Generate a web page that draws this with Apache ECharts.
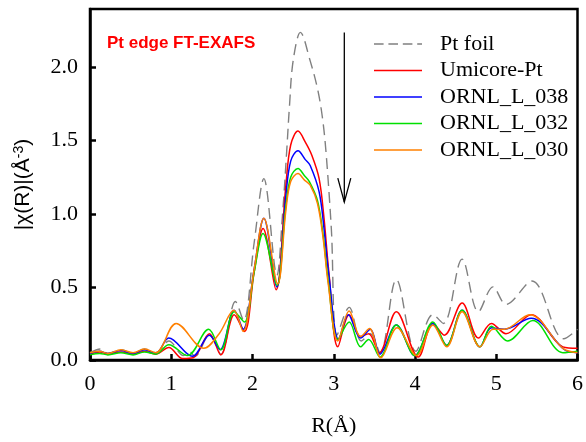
<!DOCTYPE html>
<html>
<head>
<meta charset="utf-8">
<script src="https://cdn.jsdelivr.net/npm/echarts@6/dist/echarts.min.js"></script>
<style>
  html, body { margin: 0; padding: 0; background: #fff; }
  #exafs_chart { width: 586px; height: 442px; }
</style>
</head>
<body>
<div id="exafs_chart"></div>
<script>
// [R (Å), |chi(R)|], peaks and troughs mostly
const ptFoil = [
  [0, 0.05], [0.13, 0.075], [0.22, 0.045], [0.38, 0.07], [0.53, 0.045], [0.67, 0.075], [0.81, 0.05],
  [0.97, 0.13], [1.15, 0.03], [1.22, 0.06], [1.29, 0.025], [1.47, 0.17], [1.61, 0.04], [1.79, 0.40],
  [1.89, 0.27], [2.02, 0.8], [2.14, 1.24], [2.30, 0.58], [2.37, 1.0], [2.42, 1.42], [2.455, 1.735],
  [2.50, 2.045], [2.59, 2.24], [2.71, 2.045], [2.80, 1.855], [2.86, 1.66], [2.905, 1.42], [2.97, 0.9],
  [3.04, 0.17], [3.19, 0.36], [3.34, 0.13], [3.45, 0.18], [3.57, 0.05], [3.77, 0.55], [4.01, 0.06],
  [4.22, 0.31], [4.35, 0.25], [4.58, 0.69], [4.78, 0.33], [4.96, 0.50], [5.12, 0.38], [5.44, 0.54],
  [5.83, 0.145], [6.0, 0.21]
];
const umicorePt = [
  [0, 0.04], [0.12, 0.055], [0.22, 0.04], [0.38, 0.055], [0.53, 0.04], [0.67, 0.06], [0.81, 0.04],
  [0.97, 0.085], [1.14, 0.01], [1.27, 0.015], [1.47, 0.18], [1.61, 0.035], [1.775, 0.31], [1.90, 0.195],
  [2.02, 0.6], [2.13, 0.90], [2.29, 0.48], [2.41, 1.19], [2.47, 1.47], [2.56, 1.565], [2.65, 1.49],
  [2.73, 1.40], [2.82, 1.24], [2.88, 0.97], [2.94, 0.6], [3.05, 0.09], [3.19, 0.31], [3.33, 0.16],
  [3.43, 0.18], [3.56, 0.05], [3.77, 0.33], [4.04, 0.02], [4.22, 0.25], [4.36, 0.17], [4.58, 0.39],
  [4.78, 0.15], [4.94, 0.25], [5.12, 0.18], [5.43, 0.31], [5.82, 0.09], [6.0, 0.08]
];
const ornl038 = [
  [0, 0.045], [0.12, 0.06], [0.22, 0.045], [0.38, 0.065], [0.53, 0.045], [0.67, 0.07], [0.81, 0.045],
  [0.97, 0.15], [1.26, 0.025], [1.47, 0.17], [1.60, 0.07], [1.775, 0.34], [1.885, 0.21], [2.02, 0.62],
  [2.14, 0.97], [2.30, 0.50], [2.41, 1.12], [2.47, 1.36], [2.56, 1.43], [2.65, 1.37], [2.71, 1.33],
  [2.82, 1.15], [2.88, 0.90], [2.94, 0.58], [3.06, 0.14], [3.18, 0.31], [3.33, 0.15], [3.45, 0.21],
  [3.57, 0.04], [3.77, 0.24], [4.0, 0.03], [4.22, 0.25], [4.39, 0.10], [4.58, 0.34], [4.80, 0.09],
  [4.94, 0.22], [5.1, 0.21], [5.43, 0.285], [5.84, 0.07], [6.0, 0.05]
];
const ornl032 = [
  [0, 0.035], [0.12, 0.045], [0.22, 0.035], [0.38, 0.05], [0.53, 0.035], [0.67, 0.055], [0.81, 0.04],
  [0.97, 0.105], [1.2, 0.03], [1.46, 0.21], [1.61, 0.07], [1.775, 0.33], [1.90, 0.26], [2.02, 0.6],
  [2.13, 0.865], [2.30, 0.51], [2.41, 1.05], [2.47, 1.25], [2.56, 1.31], [2.64, 1.26], [2.70, 1.22],
  [2.80, 1.09], [2.87, 0.85], [2.93, 0.55], [3.05, 0.14], [3.19, 0.26], [3.33, 0.09], [3.43, 0.14],
  [3.57, 0.02], [3.77, 0.24], [4.0, 0.03], [4.22, 0.26], [4.39, 0.10], [4.58, 0.34], [4.80, 0.09],
  [4.94, 0.23], [5.14, 0.13], [5.45, 0.27], [5.82, 0.05], [6.0, 0.06]
];
const ornl030 = [
  [0, 0.05], [0.12, 0.06], [0.22, 0.045], [0.38, 0.07], [0.53, 0.05], [0.67, 0.075], [0.81, 0.05],
  [1.06, 0.25], [1.40, 0.08], [1.59, 0.18], [1.77, 0.34], [1.885, 0.195], [2.02, 0.62], [2.14, 0.97],
  [2.31, 0.52], [2.41, 1.02], [2.47, 1.22], [2.56, 1.275], [2.64, 1.23], [2.71, 1.195], [2.80, 1.07],
  [2.87, 0.83], [2.93, 0.53], [3.05, 0.13], [3.19, 0.335], [3.33, 0.16], [3.44, 0.215], [3.58, 0.015],
  [3.78, 0.22], [4.02, 0.03], [4.22, 0.24], [4.39, 0.09], [4.58, 0.33], [4.80, 0.09], [4.96, 0.21],
  [5.1, 0.21], [5.41, 0.31], [5.82, 0.08], [6.0, 0.05]
];

const seriesNames = ['Pt foil', 'Umicore-Pt', 'ORNL_L_038', 'ORNL_L_032', 'ORNL_L_030'];
const seriesColors = ['#808080', '#ff0000', '#0000ff', '#00e000', '#ff8000'];
const seriesData = [ptFoil, umicorePt, ornl038, ornl032, ornl030];
const xTicks = [0, 1, 2, 3, 4, 5, 6];
const yTicks = [0, 0.5, 1.0, 1.5, 2.0];

// arrow: from top to bottom, in data units
const arrowFrom = [3.13, 2.24];
const arrowTo = [3.13, 1.08];

const serif = '"Liberation Serif", "Times New Roman", serif';
const sans = '"Liberation Sans", Arial, sans-serif';

// legend icons: plain line, dashed for the foil
const solidIcon = 'path://M0,0h60v2h-60z';
const dashedIcon = 'path://M0,0h12v2h-12z M18,0h12v2h-12z M36,0h12v2h-12z M54,0h6v2h-6z';

var exafs_chart = echarts.init(document.getElementById('exafs_chart'));

var option = {
  animation: false,
  grid: {
    left: 90, right: 6, top: 9, bottom: 80,
    show: true,
    borderColor: '#000',
    borderWidth: 2.5
  },
  title: {
    text: 'Pt edge FT-EXAFS',
    left: 102, top: 30,
    textStyle: { color: '#ff0000', fontFamily: sans, fontWeight: 'bold', fontSize: 17 }
  },
  legend: {
    orient: 'vertical',
    left: 369, top: 28,
    itemWidth: 58, itemHeight: 1.6,
    itemGap: 4.5,
    data: seriesNames.map((n, i) => ({ name: n, icon: i === 0 ? dashedIcon : solidIcon })),
    textStyle: { fontFamily: serif, fontSize: 22, color: '#000', padding: [0, 0, 0, 8], lineHeight: 20 }
  },
  xAxis: {
    type: 'value',
    min: 0, max: 6, interval: 1,
    name: 'R(Å)',
    nameLocation: 'middle',
    nameGap: 55,
    nameTextStyle: { fontFamily: serif, fontSize: 22, color: '#000' },
    axisLine: { lineStyle: { color: '#000', width: 2.5 } },
    axisTick: { inside: true, length: 6, lineStyle: { width: 2.5 } },
    axisLabel: {
      fontFamily: serif, fontSize: 22, color: '#000', margin: 13,
      formatter: v => xTicks.indexOf(v) >= 0 ? String(v) : ''
    },
    splitLine: { show: false }
  },
  yAxis: {
    type: 'value',
    min: 0, max: 2.4, interval: 0.5,
    name: '{a||χ(R)|(Å}{s|-3}{a|)}',
    nameLocation: 'middle',
    nameGap: 56,
    nameRotate: 90,
    nameTextStyle: {
      rich: {
        a: { fontFamily: sans, fontSize: 21, color: '#000' },
        s: { fontFamily: sans, fontSize: 14, color: '#000', verticalAlign: 'top', padding: [0, 0, 8, 0] }
      }
    },
    axisLine: { lineStyle: { color: '#000', width: 2.5 } },
    axisTick: { inside: true, length: 6, lineStyle: { width: 2.5 } },
    axisLabel: {
      fontFamily: serif, fontSize: 22, color: '#000', margin: 12,
      showMaxLabel: false,
      formatter: v => yTicks.some(t => Math.abs(t - v) < 1e-6) ? v.toFixed(1) : ''
    },
    splitLine: { show: false }
  },
  series: seriesNames.map((name, i) => ({
    name: name,
    type: 'line',
    data: seriesData[i],
    smooth: 0.35,
    symbol: 'none',
    color: seriesColors[i],
    lineStyle: {
      color: seriesColors[i],
      width: i === 0 ? 1.4 : 1.5,
      type: i === 0 ? [11, 6] : 'solid'
    }
  }))
};

exafs_chart.setOption(option);

// arrow drawn in pixel space from data coords
var p0 = exafs_chart.convertToPixel({ gridIndex: 0 }, arrowFrom);
var p1 = exafs_chart.convertToPixel({ gridIndex: 0 }, arrowTo);
exafs_chart.setOption({
  graphic: [
    {
      type: 'polyline',
      shape: { points: [p0, p1] },
      style: { stroke: '#000', lineWidth: 1.3, fill: null }
    },
    {
      type: 'polyline',
      shape: { points: [[p1[0] - 6.5, p1[1] - 24], p1, [p1[0] + 6.5, p1[1] - 24]] },
      style: { stroke: '#000', lineWidth: 1.3, fill: null }
    }
  ]
});

window.addEventListener('resize', () => {
  exafs_chart.resize();
});
</script>
</body>
</html>
